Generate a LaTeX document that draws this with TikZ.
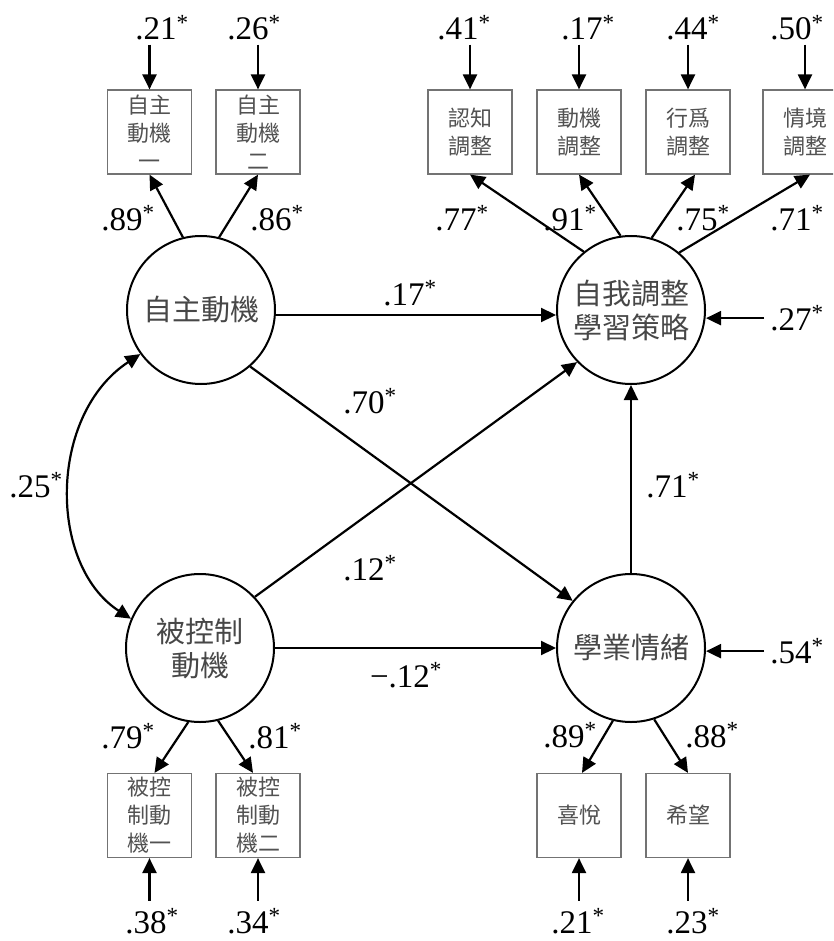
\documentclass[tikz,border=0pt]{standalone}
\usepackage{fontspec}
\setmainfont{Liberation Serif}
\newfontfamily\cjk{Noto Sans CJK TC}
\usetikzlibrary{arrows.meta}
\newcommand\myst{\textsuperscript{*}}
\begin{document}
\begin{tikzpicture}[x=1pt,y=-1pt,
  lat/.style={circle,draw,line width=2pt,minimum size=148pt,inner sep=0pt,
    font=\cjk\fontsize{29}{34}\selectfont,text=black!72,align=center},
  obs/.style={rectangle,draw=black!55,line width=1.2pt,minimum width=84pt,
    minimum height=84pt,inner sep=0pt,font=\cjk\fontsize{22}{28}\selectfont,
    text=black!68,align=center},
  num/.style={inner sep=0pt,anchor=base,font=\fontsize{33}{36}\selectfont},
  arr/.style={-{Triangle[length=15pt,width=14pt]},line width=2.2pt},
  darr/.style={{Triangle[length=15pt,width=14pt]}-{Triangle[length=15pt,width=14pt]},line width=2.2pt}
]
\useasboundingbox (0,0) rectangle (833,941);
\fill[white] (0,0) rectangle (833,941);
\clip (0,0) rectangle (833,941);

% latent variables
\node[lat] (zz) at (201,310) {自主動機};
\node[lat] (zw) at (631,310) {自我調整\\學習策略};
\node[lat] (bk) at (200,648) {被控制\\動機};
\node[lat] (xy) at (631,648) {學業情緒};

% observed variables
\node[obs] (a1) at (149.5,132) {自主\\動機\\一};
\node[obs] (a2) at (258,132) {自主\\動機\\二};
\node[obs] (r1) at (470,132) {認知\\調整};
\node[obs] (r2) at (579,132) {動機\\調整};
\node[obs] (r3) at (688,132) {行爲\\調整};
\node[obs] (r4) at (805,132) {情境\\調整};
\node[obs] (c1) at (149.5,815.5) {被控\\制動\\機一};
\node[obs] (c2) at (258,815.5) {被控\\制動\\機二};
\node[obs] (e1) at (579,815.5) {喜悅};
\node[obs] (e2) at (688,815.5) {希望};

% error labels top
\node[num] (t1) at (162,40) {.21\myst};
\node[num] (t2) at (254,40) {.26\myst};
\node[num] (t3) at (464,40) {.41\myst};
\node[num] (t4) at (588,40) {.17\myst};
\node[num] (t5) at (693,40) {.44\myst};
\node[num] (t6) at (797,40) {.50\myst};
% error labels bottom
\node[num] (b1) at (152,933) {.38\myst};
\node[num] (b2) at (254,933) {.34\myst};
\node[num] (b3) at (578,933) {.21\myst};
\node[num] (b4) at (693,933) {.23\myst};
% loading labels
\node[num] (l1) at (128,230) {.89\myst};
\node[num] (l2) at (277,230) {.86\myst};
\node[num] (l3) at (462,230) {.77\myst};
\node[num] (l4) at (570,230) {.91\myst};
\node[num] (l5) at (703,230) {.75\myst};
\node[num] (l6) at (797,230) {.71\myst};
\node[num] (l7) at (128,748) {.79\myst};
\node[num] (l8) at (275,748) {.81\myst};
\node[num] (l9) at (570,747) {.89\myst};
\node[num] (l10) at (712,747) {.88\myst};
% structural labels
\node[num] (s1) at (410,305) {.17\myst};
\node[num] (s2) at (370,413) {.70\myst};
\node[num] (s3) at (36,497) {.25\myst};
\node[num] (s4) at (370,580) {.12\myst};
\node[num] (s5) at (406,687) {−.12\myst};
\node[num] (s6) at (673,497) {.71\myst};
\node[num] (s7) at (797,330) {.27\myst};
\node[num] (s8) at (797,663) {.54\myst};

% error arrows
\foreach \l/\b in {t1/a1,t2/a2,t3/r1,t4/r2,t5/r3,t6/r4}
  \draw[arr,shorten <=4pt] (\l.south -| \b.north) -- (\b.north);
\foreach \l/\b in {b1/c1,b2/c2,b3/e1,b4/e2}
  \draw[arr,shorten <=8pt] (\l.north -| \b.south) -- (\b.south);
\draw[arr,shorten <=6pt] (s7.west) -- (s7.west -| zw.east);
\draw[arr,shorten <=6pt] (s8.west) -- (s8.west -| xy.east);

% loadings
\draw[arr] (zz.104) -- (a1.south);
\draw[arr] (zz.76) -- (a2.south);
\draw[arr] (zw.129) -- (r1.south);
\draw[arr] (zw.98.5) -- (r2.south);
\draw[arr] (zw.74) -- ([xshift=7pt]r3.south);
\draw[arr] (zw.50) -- ([xshift=5pt]r4.south);
\draw[arr] (bk.261) -- ([xshift=5pt]c1.north);
\draw[arr] (bk.284) -- ([xshift=-5pt]c2.north);
\draw[arr] (xy.256) -- ([xshift=3pt]e1.north);
\draw[arr] (xy.288) -- (e2.north);

% structural paths
\draw[arr] ([yshift=-5pt]zz.east) -- ([yshift=-5pt]zw.west);
\draw[arr] (bk.east) -- (xy.west);
\draw[arr] (bk.43) -- (zw.224);
\draw[arr] (zz.311.6) -- (xy.141.6);
\draw[arr] (xy.north) -- (zw.south);
\draw[darr] (zz.216.7) .. controls (48,415) and (48,565) .. (bk.157);
\end{tikzpicture}
\end{document}
